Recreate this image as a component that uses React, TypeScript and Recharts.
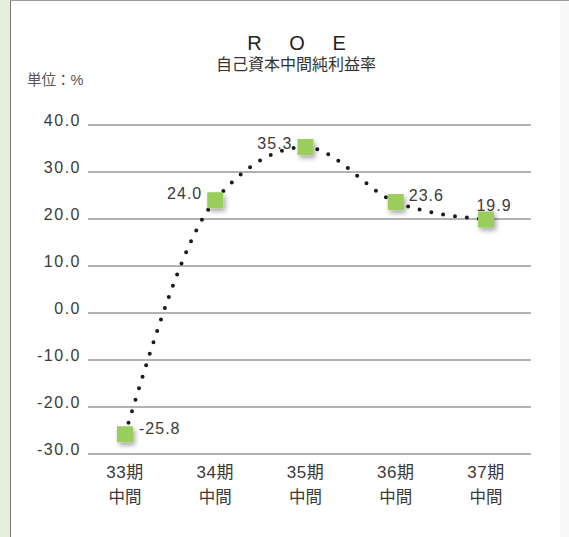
import React from 'react';
import { LineChart, Line, XAxis, YAxis, CartesianGrid, LabelList } from 'recharts';

const periods = ['33期', '34期', '35期', '36期', '37期'];
const roe = [-25.8, 24.0, 35.3, 23.6, 19.9];
const yTicks = [-30, -20, -10, 0, 10, 20, 30, 40];

const data = periods.map((p, i) => ({ period: p, roe: roe[i] }));

const FONT = '"Liberation Sans", "Noto Sans CJK JP", sans-serif';

// label offsets relative to each marker
const labelPos = [
  { dx: 14, dy: -6, anchor: 'start' },
  { dx: -13, dy: -7, anchor: 'end' },
  { dx: -13, dy: -4, anchor: 'end' },
  { dx: 13, dy: -7, anchor: 'start' },
  { dx: 8, dy: -14, anchor: 'middle' },
];

const SquareDot = (props: any) => {
  const { cx, cy, index } = props;
  if (cx == null || cy == null) return null;
  const id = `sh${index}`;
  return (
    <g key={id}>
      <defs>
        <filter id={id} x="-50%" y="-50%" width="200%" height="200%">
          <feDropShadow dx="2" dy="3" stdDeviation="2.5" floodColor="#000" floodOpacity="0.35" />
        </filter>
      </defs>
      <rect x={cx - 8} y={cy - 8} width={16} height={16} fill="#9bcd5c" filter={`url(#${id})`} />
    </g>
  );
};

const ValueLabel = (props: any) => {
  const { x, y, value, index } = props;
  const p = labelPos[index] || { dx: 0, dy: -12, anchor: 'middle' };
  return (
    <text x={x + p.dx} y={y + p.dy} textAnchor={p.anchor} dominantBaseline="central"
      fontSize={16} letterSpacing={1} fill="#3a3a3a" fontFamily={FONT}>
      {Number(value).toFixed(1)}
    </text>
  );
};

const YTick = (props: any) => {
  const { y, payload } = props;
  return (
    <text x={81} y={y - 5} textAnchor="end" dominantBaseline="central" fontSize={16} letterSpacing={1.5}
      fill="#3a3a3a" fontFamily={FONT}>
      {Number(payload.value).toFixed(1)}
    </text>
  );
};

const XTick = (props: any) => {
  const { x, payload } = props;
  return (
    <g>
      <text x={x} y={472} textAnchor="middle" dominantBaseline="central" fontSize={17} letterSpacing={0.5}
        fill="#3a3a3a" fontFamily={FONT}>
        {payload.value}
      </text>
      <text x={x} y={497} textAnchor="middle" dominantBaseline="central" fontSize={16.5} fill="#3a3a3a" fontFamily={FONT}>
        中間
      </text>
    </g>
  );
};

export default function App() {
  return (
    <div style={{ position: 'absolute', left: 0, top: 0, width: 569, height: 537, background: '#fff', overflow: 'hidden' }}>
      <div style={{ position: 'absolute', left: 0, top: 0, width: 10, height: 537, background: '#e4efdc' }} />
      <div style={{ position: 'absolute', left: 10, top: 0, width: 1, height: 537, background: '#777' }} />
      <div style={{ position: 'absolute', left: 10, top: 0, width: 559, height: 1, background: '#999' }} />
      <div style={{ position: 'absolute', left: 560, top: 1, width: 9, height: 536, background: '#f8f8f8' }} />
      <div style={{ position: 'absolute', left: 0, top: 0 }}>
        <LineChart width={569} height={537} data={data} margin={{ top: 125, right: 38, bottom: 0, left: 0 }}>
          <text x={302} y={43} textAnchor="middle" dominantBaseline="central" fontSize={20} letterSpacing={11}
            fill="#222" fontFamily={FONT}>R O E</text>
          <text x={296} y={64} textAnchor="middle" dominantBaseline="central" fontSize={16} fill="#333" fontFamily={FONT}>
            自己資本中間純利益率
          </text>
          <text x={27} y={80} textAnchor="start" dominantBaseline="central" fontSize={14.5} fill="#555" fontFamily={FONT}>
            単位：%
          </text>
          <CartesianGrid vertical={false} stroke="#999" strokeWidth={1.3} />
          <XAxis dataKey="period" axisLine={false} tickLine={false} height={83} interval={0}
            padding={{ left: 37, right: 45 }} tick={<XTick />} />
          <YAxis domain={[-30, 40]} ticks={yTicks} axisLine={false} tickLine={false} width={88}
            interval={0} tick={<YTick />} />
          <Line type="monotone" dataKey="roe" stroke="#1a1a1a" strokeWidth={4} strokeDasharray="0 12"
            strokeLinecap="round" dot={<SquareDot />} activeDot={false} isAnimationActive={false}>
            <LabelList dataKey="roe" content={<ValueLabel />} />
          </Line>
        </LineChart>
      </div>
    </div>
  );
}
